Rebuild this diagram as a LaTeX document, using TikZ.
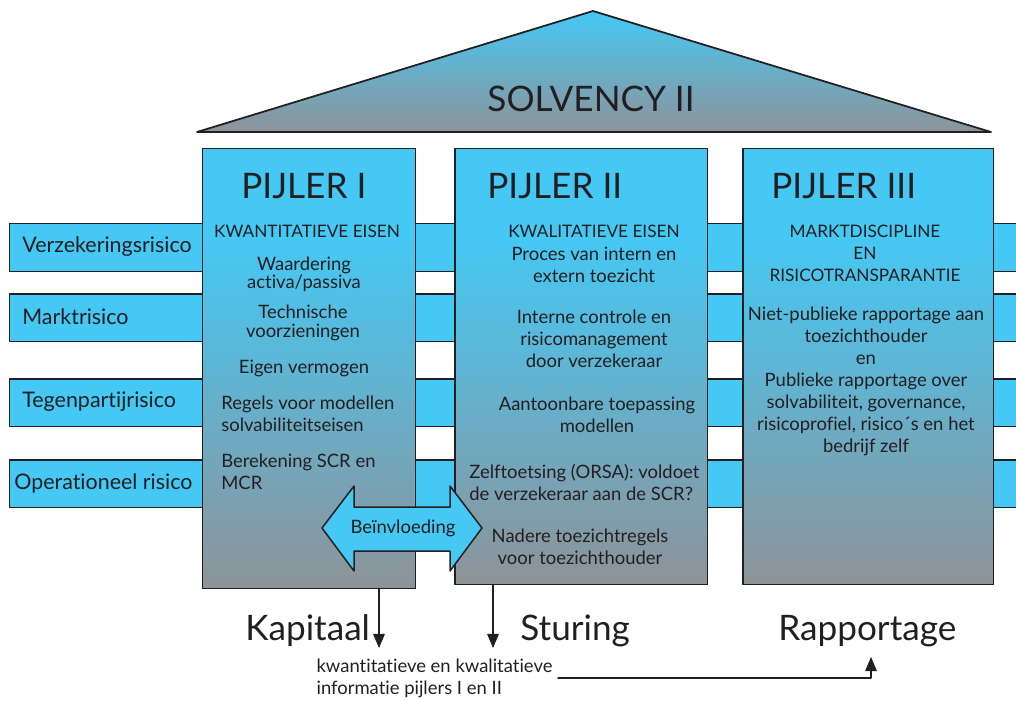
\documentclass[tikz,border=0pt]{standalone}
\usepackage{fontspec}
\setmainfont{Lato}[Ligatures={NoCommon}]
\usetikzlibrary{arrows}
\definecolor{sky}{HTML}{45C8F4}
\definecolor{slate}{HTML}{8D9399}
\definecolor{ink}{HTML}{231F20}
\colorlet{fadeA}{sky!65!slate}
\colorlet{fadeB}{sky!30!slate}
% blue at the top of a pillar, grey at its foot
\pgfdeclareverticalshading{pillarfade}{100bp}{color(0bp)=(slate); color(25bp)=(slate); color(37bp)=(fadeB); color(50bp)=(fadeA); color(65bp)=(sky); color(100bp)=(sky)}

\begin{document}
\begin{tikzpicture}[line cap=round,line join=round,>=triangle 45,x=0.02cm,y=-0.02cm,
	edge/.style={draw=ink,line width=0.85pt},
	risk/.style={edge,fill=sky,anchor=north west,inner sep=0pt,minimum width=20.42cm,minimum height=0.96cm},
	pillar/.style={edge,shade,shading=pillarfade,anchor=north west,inner sep=0pt},
	riskname/.style={anchor=west,inner sep=0pt,text=ink,font=\fontsize{12.2}{15}\selectfont},
	heading/.style={anchor=base west,inner sep=0pt,text=ink,font=\fontsize{20}{24}\selectfont},
	caps/.style={inner sep=0pt,text=ink,align=center,font=\fontsize{9.8}{12.5}\selectfont},
	item/.style={inner sep=0pt,text=ink,align=center,font=\fontsize{10.5}{12.5}\selectfont},
	link/.style={draw=ink,line width=0.85pt,->}]
	\useasboundingbox (0,0) rectangle (1016,700);
	\clip (0,0) rectangle (1016,700);
	% roof
	\draw [edge,line width=1pt,top color=sky,bottom color=slate] (197,132) -- (593,11) -- (991,132) -- cycle;
	\node [heading,anchor=base] (title) at (591,111) {SOLVENCY II};
	% risk bars behind the pillars
	\node [risk] (r1) at (9,223) {};
	\node [risk] (r2) at (9,293) {};
	\node [risk] (r3) at (9,378) {};
	\node [risk] (r4) at (9,459) {};
	\node [riskname] (r1t) at (22,247) {Verzekeringsrisico};
	\node [riskname] (r2t) at (22,317) {Marktrisico};
	\node [riskname] (r3t) at (22,402) {Tegenpartijrisico};
	\node [riskname] (r4t) at (14,483) {Operationeel risico};
	% pillars
	\node [pillar,minimum width=4.26cm,minimum height=8.8cm] (p1) at (202,148) {};
	\node [pillar,minimum width=5.06cm,minimum height=8.72cm] (p2) at (454,148) {};
	\node [pillar,minimum width=5.02cm,minimum height=8.72cm] (p3) at (742,148) {};
	\node [heading] (p1t) at (241,198) {PIJLER I};
	\node [heading] (p2t) at (487,198) {PIJLER II};
	\node [heading] (p3t) at (771,198) {PIJLER III};
	% pijler I
	\node [caps] (p1a) at (307,231) {KWANTITATIEVE EISEN};
	\node [item] (p1b) at (304,274.5) {Waardering\\[-2.5pt]activa/passiva};
	\node [item] (p1c) at (303,323) {Technische\\[-1.5pt]voorzieningen};
	\node [item] (p1d) at (304,368) {Eigen vermogen};
	\node [item,align=left,anchor=west] (p1e) at (221,414) {Regels voor modellen\\solvabiliteitseisen};
	\node [item,align=left,anchor=west] (p1f) at (221,472) {Berekening SCR en\\MCR};
	% pijler II
	\node [caps] (p2a) at (594,231) {KWALITATIEVE EISEN};
	\node [item] (p2b) at (594,265) {Proces van intern en\\extern toezicht};
	\node [item] (p2c) at (594,339) {Interne controle en\\risicomanagement\\door verzekeraar};
	\node [item] (p2d) at (597,414.5) {Aantoonbare toepassing\\modellen};
	\node [item,align=left,anchor=west] (p2e) at (469,482) {Zelftoetsing (ORSA): voldoet\\de verzekeraar aan de SCR?};
	\node [item] (p2f) at (580,547) {Nadere toezichtregels\\voor toezichthouder};
	% pijler III
	\node [caps] (p3a) at (865,253.5) {MARKTDISCIPLINE\\EN\\RISICOTRANSPARANTIE};
	\node [item] (p3b) at (866,381.5) {Niet-publieke rapportage aan\\toezichthouder\\en\\Publieke rapportage over\\solvabiliteit, governance,\\risicoprofiel, risico´s en het\\bedrijf zelf};
	% influence between pijler I and II
	\draw [edge,fill=sky] (322,528) -- (354,486) -- (354,507) -- (450,507) -- (450,486) -- (482,528)
		-- (450,571) -- (450,551) -- (354,551) -- (354,571) -- cycle;
	\node [item] (infl) at (403,528) {Beïnvloeding};
	% outputs
	\node [heading] (kap) at (245,640) {Kapitaal};
	\node [heading] (stu) at (520,640) {Sturing};
	\node [heading] (rap) at (778,640) {Rapportage};
	\node [item,align=left,anchor=west,inner sep=3pt] (info) at (311,678) {kwantitatieve en kwalitatieve\\informatie pijlers I en II};
	\coordinate (kin) at (379,648);
	\coordinate (sin) at (493,648);
	\coordinate (rin) at (871,657);
	\draw [link] (p1.south -| kin) -- (kin);
	\draw [link] (p2.south -| sin) -- (sin);
	\draw [link] (info.east) -| (rin);
\end{tikzpicture}
\end{document}
